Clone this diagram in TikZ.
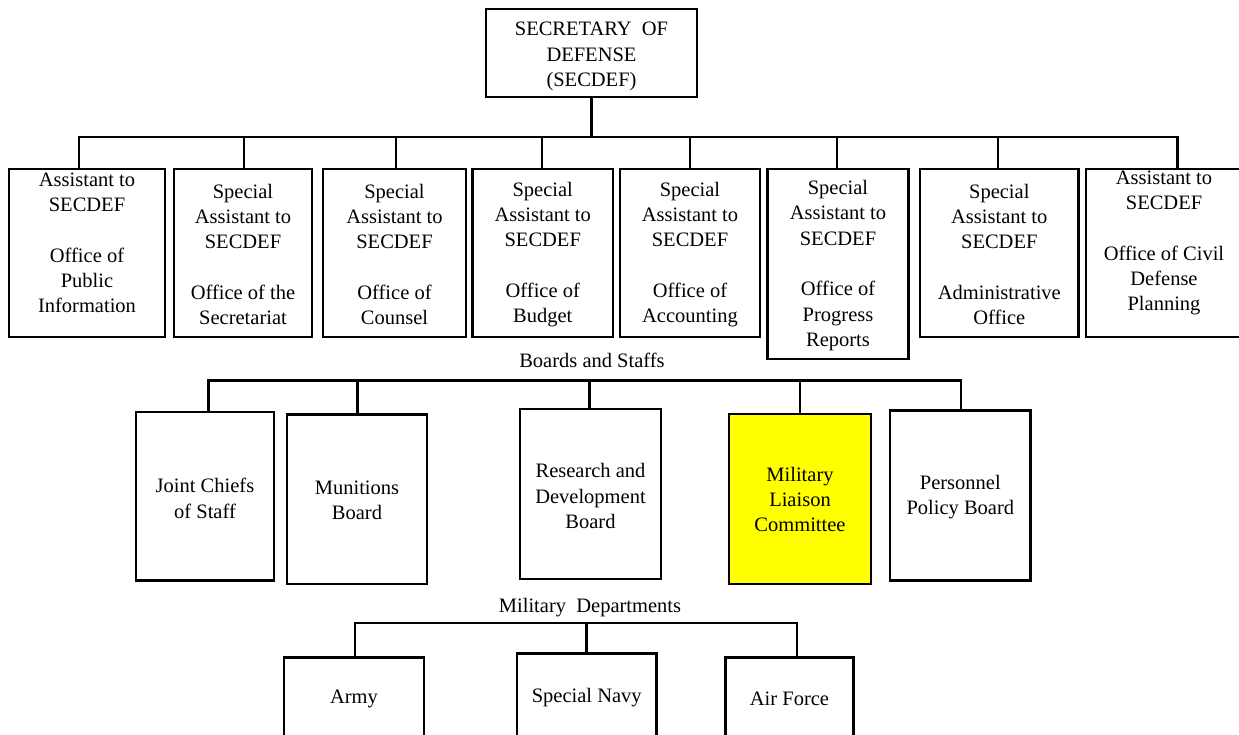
\documentclass[tikz,border=0pt]{standalone}
\usepackage{fontspec}
\setmainfont{Liberation Serif}
\definecolor{hiyellow}{RGB}{255,255,0}
\begin{document}
\begin{tikzpicture}[x=1pt,y=-1pt,
  box/.style={draw=black, line width=2.8pt, fill=white, inner sep=0pt},
  txt/.style={inner sep=0pt, align=center},
  conn/.style={draw=black, line width=2.8pt},
  every node/.append style={font=\fontsize{20.5}{25.3}\selectfont}]
\useasboundingbox (0,0) rectangle (1239,734);
\clip (0,0) rectangle (1239,734);
\fill[white] (0,0) rectangle (1239,734);

% top
\node[box, minimum width=211pt, minimum height=88pt] (top) at (591.5,53) {};
\node[txt] (ttop) at ([yshift=-3.5pt]top.center) {SECRETARY~~OF\\DEFENSE\\(SECDEF)};

% row 1
\node[box, minimum width=156pt, minimum height=168pt] (b1) at (87,253) {};
\node[box, minimum width=138pt, minimum height=168pt] (b2) at (243,253) {};
\node[box, minimum width=143pt, minimum height=168pt] (b3) at (394.5,253) {};
\node[box, minimum width=140.5pt, minimum height=168pt] (b4) at (542.75,253) {};
\node[box, minimum width=140pt, minimum height=168pt] (b5) at (690,253) {};
\node[box, minimum width=141pt, minimum height=190pt] (b6) at (838,264) {};
\node[box, minimum width=158.7pt, minimum height=168pt] (b7) at (999.3,253) {};
\node[box, minimum width=156pt, minimum height=168pt] (b8) at (1164,253) {};
\node[txt] (t1) at ([yshift=10pt]b1.center) {Assistant to\\SECDEF\\[25.3pt]Office of\\Public\\Information};
\node[txt] (t2) at ([yshift=-1.5pt]b2.center) {Special\\Assistant to\\SECDEF\\[25.3pt]Office of the\\Secretariat};
\node[txt] (t3) at ([yshift=-1.5pt]b3.center) {Special\\Assistant to\\SECDEF\\[25.3pt]Office of\\Counsel};
\node[txt] (t4) at ([yshift=-1.5pt]b4.center) {Special\\Assistant to\\SECDEF\\[25.3pt]Office of\\Budget};
\node[txt] (t5) at ([yshift=-1.5pt]b5.center) {Special\\Assistant to\\SECDEF\\[25.3pt]Office of\\Accounting};
\node[txt] (t6) at ([yshift=-1.5pt]b6.center) {Special\\Assistant to\\SECDEF\\[25.3pt]Office of\\Progress\\Reports};
\node[txt] (t7) at ([yshift=-1.5pt]b7.center) {Special\\Assistant to\\SECDEF\\[25.3pt]Administrative\\Office};
\node[txt] (t8) at ([yshift=10pt]b8.center) {Assistant to\\SECDEF\\[25.3pt]Office of Civil\\Defense\\Planning};

\coordinate (a1) at (79,137);
\coordinate (a2) at (244,137);
\coordinate (a3) at (396,137);
\coordinate (a4) at (542,137);
\coordinate (a5) at (690,137);
\coordinate (a6) at (837,137);
\coordinate (a7) at (998,137);
\coordinate (a8) at (1177.5,137);
\draw[conn] (top.south) -- (top.south |- a1);
\draw[conn] ([xshift=-1.4pt]a1) -- ([xshift=1.4pt]a8);
\foreach \i in {1,...,8}{\draw[conn] (a\i) -- (a\i |- b\i.north);}

% row 2
\node[txt] (bs) at (592,360) {Boards and Staffs};
\node[box, minimum width=138pt, minimum height=168.7pt] (c1) at (205,496.3) {};
\node[box, minimum width=140pt, minimum height=169.3pt] (c2) at (357,499.3) {};
\node[box, minimum width=141pt, minimum height=170pt] (c3) at (590.5,494) {};
\node[box, fill=hiyellow, minimum width=142pt, minimum height=170pt] (c4) at (800,499) {};
\node[box, minimum width=140.7pt, minimum height=170pt] (c5) at (960.3,495.7) {};
\node[txt] (s1) at ([yshift=-2pt]c1.center) {Joint Chiefs\\of Staff};
\node[txt] (s2) at ([yshift=-1pt]c2.center) {Munitions\\Board};
\node[txt] (s3) at ([yshift=-2pt]c3.center) {Research and\\Development\\Board};
\node[txt] (s4) at ([yshift=-0.5pt]c4.center) {Military\\Liaison\\Committee};
\node[txt] (s5) at ([yshift=-1.5pt]c5.center) {Personnel\\Policy Board};
\coordinate (d1) at (208.6,380.7);
\coordinate (d2) at (357.5,380.7);
\coordinate (d3) at (589.6,380.7);
\coordinate (d4) at (800,380.7);
\coordinate (d5) at (961,380.7);
\draw[conn] ([xshift=-1.4pt]d1) -- ([xshift=1.4pt]d5);
\foreach \i in {1,...,5}{\draw[conn] (d\i) -- (d\i |- c\i.north);}

% row 3
\node[txt] (md) at (590,607.5) {Military~~Departments};
\node[box, anchor=north, minimum width=140pt, minimum height=170pt] (e1) at (354,655.7) {};
\node[box, anchor=north, minimum width=139.5pt, minimum height=170pt] (e2) at (586.7,652.3) {};
\node[box, anchor=north, minimum width=128pt, minimum height=170pt] (e3) at (789.5,655.7) {};
\node[txt] (u1) at (354,699) {Army};
\node[txt] (u2) at (586.7,697.5) {Special Navy};
\node[txt] (u3) at (789.5,699) {Air Force};
\coordinate (f1) at (355,623);
\coordinate (f2) at (586.5,623);
\coordinate (f3) at (797,623);
\draw[conn] ([xshift=-1.4pt]f1) -- ([xshift=1.4pt]f3);
\foreach \i in {1,2,3}{\draw[conn] (f\i) -- (f\i |- e\i.north);}
\end{tikzpicture}
\end{document}
